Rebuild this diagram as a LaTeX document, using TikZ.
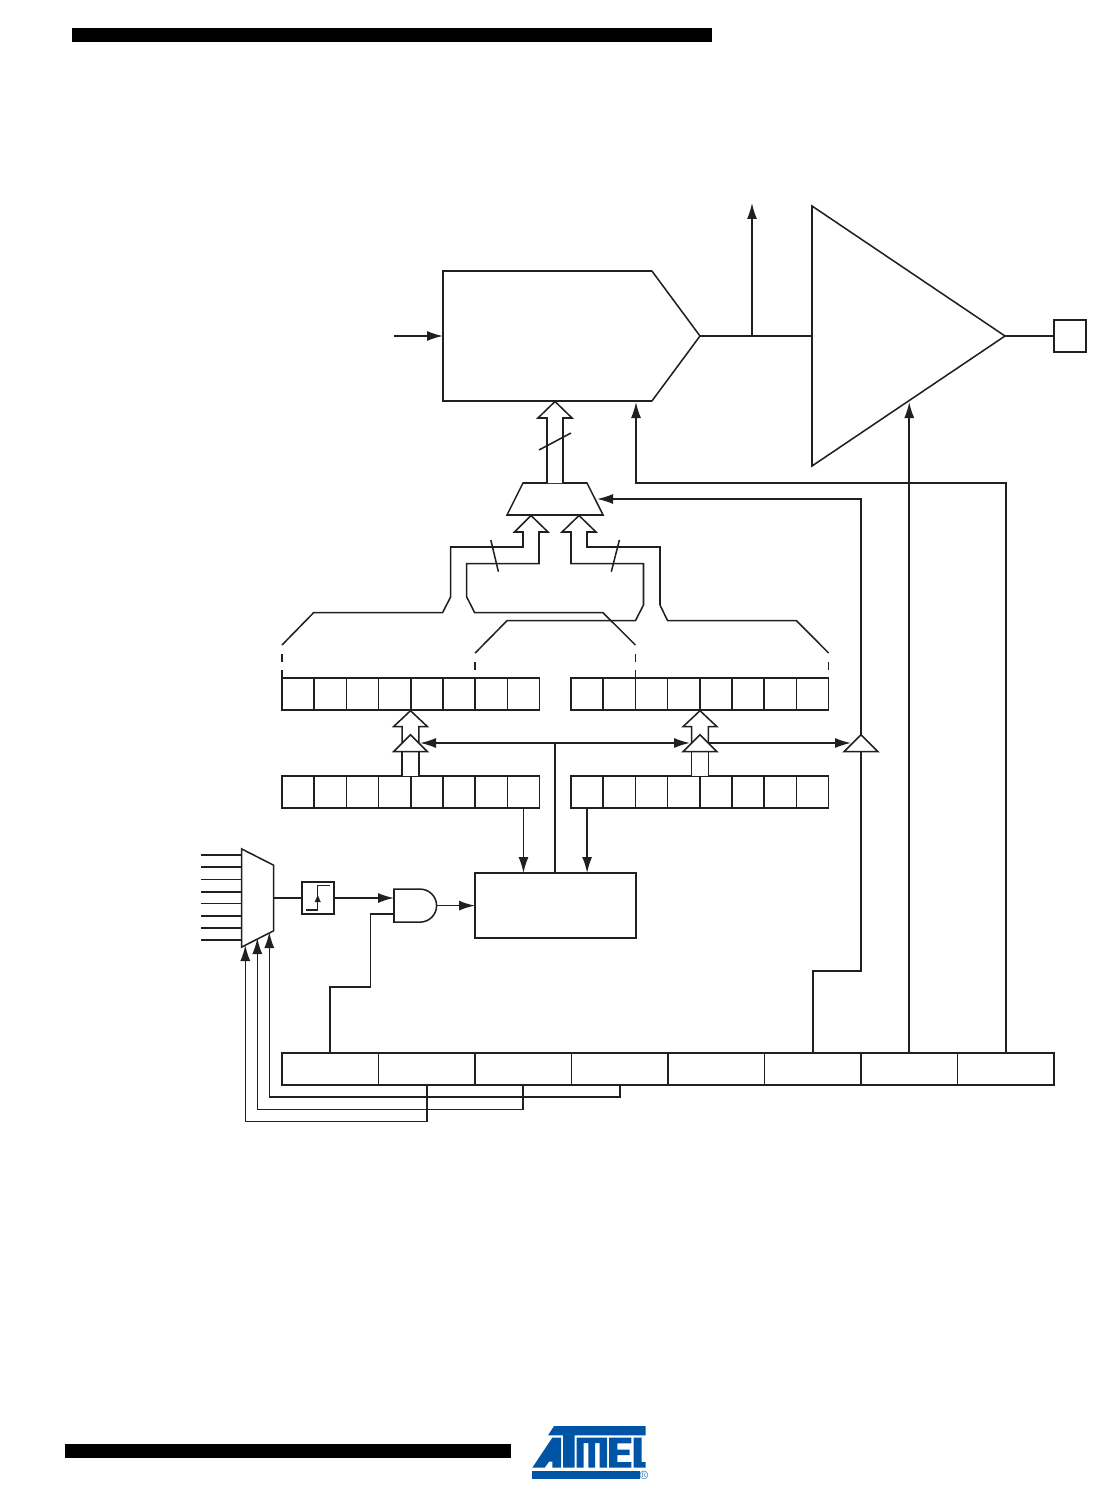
\documentclass[tikz,border=0pt]{standalone}
\usetikzlibrary{arrows.meta,calc,shapes.geometric,shapes.symbols}
\definecolor{inkline}{HTML}{231F20}
\definecolor{logoblue}{HTML}{0054A6}
\def\pxu{0.75pt}
\def\cellwid{32.2}
\def\ctrlwid{96.5}

\begin{document}
\begin{tikzpicture}[
            x=\pxu, y=-\pxu,
            line width=1.15pt, color=inkline,
            cell/.style={%
                rectangle, draw=inkline, line width=1.15pt, inner sep=0pt, outer sep=0pt,%
                minimum width=\cellwid*\pxu, minimum height=32*\pxu%
            },
            ctrl/.style={%
                cell, minimum width=\ctrlwid*\pxu%
            },
            block/.style={%
                rectangle, draw=inkline, line width=1.15pt, inner sep=0pt, outer sep=0pt%
            },
            bar/.style={%
                rectangle, fill=black, draw=none, inner sep=0pt, outer sep=0pt%
            },
            muxbox/.style={%
                trapezium, draw=inkline, line width=1.15pt,%
                fill=white, inner sep=0pt, outer sep=0pt, text height=32*\pxu, text depth=0pt%
            },
            tribuf/.style={%
                isosceles triangle, isosceles triangle stretches, shape border rotate=90,%
                draw=inkline, line width=1.15pt, fill=white, inner sep=0pt, outer sep=0pt,%
                minimum width=34*\pxu, minimum height=17*\pxu, anchor=lower side%
            },
            bus/.style={line width=1.15pt, draw=inkline, fill=white},
            arrow/.style={line width=1.15pt, -{Latex[length=12pt,width=7.5pt]}}
        ]
        \useasboundingbox (0,0) rectangle (1114,1487);

        % Page bars
        \node (headbar) [bar, minimum width=640*\pxu, minimum height=14*\pxu] at (391.7,35) {};
        \node (footbar) [bar, minimum width=446*\pxu, minimum height=14*\pxu] at (287.7,1451) {};

        % Define nodes
        \node (dac) [
                signal, signal to=east, signal pointer angle=107,
                draw=inkline, line width=1.15pt, inner sep=0pt, outer sep=0pt,
                minimum width=257*\pxu, minimum height=130*\pxu, anchor=west
            ] at (443,336) {};

        \node (amp) [
                isosceles triangle, isosceles triangle stretches,
                draw=inkline, line width=1.15pt, inner sep=0pt, outer sep=0pt,
                minimum width=260*\pxu, minimum height=193*\pxu, anchor=lower side
            ] at (812,336) {};

        \node (pin) [block, minimum width=32*\pxu, minimum height=32*\pxu] at (1070,336) {};

        \node (refin) [coordinate] at (394,336) {};
        \node (acout) [coordinate] at (752,203) {};

        \foreach \i in {1,...,8} {
            \node (dataH\i) [cell] at ({282+(\i-0.5)*\cellwid},694) {};
            \node (dataL\i) [cell] at ({571+(\i-0.5)*\cellwid},694) {};
            \node (buffH\i) [cell] at ({282+(\i-0.5)*\cellwid},792) {};
            \node (buffL\i) [cell] at ({571+(\i-0.5)*\cellwid},792) {};
            \node (ctrl\i) [ctrl] at ({282+(\i-0.5)*\ctrlwid},1069) {};
        }

        \node (timer) [block, minimum width=161*\pxu, minimum height=65*\pxu] at (555.5,905.5) {};

        \node (inmux) [
                muxbox, rotate=-90, trapezium left angle=63, trapezium right angle=63,
                text width=65.5*\pxu
            ] at (257.7,898) {};

        \node (trig) [block, minimum width=32.5*\pxu, minimum height=32.5*\pxu] at (318,898) {};

        \node (andgate) [
                inner sep=0pt, outer sep=0pt,
                minimum width=42.6*\pxu, minimum height=33*\pxu
            ] at (415.3,905.6) {};
        \coordinate (andin1) at (andgate.west |- 0,898);
        \coordinate (andin2) at (andgate.west |- 0,914);

        \node (selmux) [
                muxbox, trapezium left angle=63.4, trapezium right angle=63.4,
                text width=64*\pxu
            ] at (555,499) {};

        % Gate outline
        \draw (andgate.north west) -- ++(26.1,0) arc[start angle=90, end angle=-90, radius=16.5*\pxu] -- (andgate.south west) -- cycle;

        % Trigger symbol
        \draw (306,910) -- (317.7,910) -- (317.7,885.7) -- (330,885.7);
        \draw [-{Latex[length=6pt,width=5pt]}] (317.7,905) -- (317.7,894);

        % Analog part
        \draw [arrow] (refin) -- (dac.west);
        \draw (dac.east) -- (amp.lower side);
        \draw [arrow] (dac.east -| acout) -- (acout);
        \draw (amp.apex) -- (pin.west);
        \draw [arrow] (ctrl7.north) -- (ctrl7.north |- 0,402);
        \draw [arrow] (ctrl8.north) |- (636,483) -- (636,402);

        % Bus into the converter
        \draw [bus] (547,483) -- (547,418) -- (538,418) -- (555,401.5) -- (572,418) -- (563,418) -- (563,483);
        \draw (539,450) -- (571,433);

        % Buses into the selector
        \draw (dataH1.north west |- 0,645) -- (313.6,612.7) -- (442.5,612.7) -- (450.6,597) -- (450.6,547)
            -- (523,547) -- (523,532) -- (514.5,532) -- (531,515.5) -- (548,532) -- (539,532) -- (539,563.7)
            -- (466.7,563.7) -- (466.7,597) -- (474.7,612.7) -- (603,612.7) -- (dataL3.north west |- 0,645);
        \draw (dataH7.north west |- 0,653) -- (507,620.7) -- (635.4,620.7) -- (643.5,605) -- (643.5,563.7)
            -- (571,563.7) -- (571,532) -- (562,532) -- (579,515.5) -- (596,532) -- (587,532) -- (587,547)
            -- (660,547) -- (660,605) -- (667.6,620.7) -- (796.5,620.7) -- (dataL8.north east |- 0,653);
        \draw [dash pattern=on 6pt off 6pt] (dataH1.north west |- 0,654) -- (dataH1.north west);
        \draw [dash pattern=on 6pt off 6pt] (dataL3.north west |- 0,654) -- (dataL3.north west);
        \draw (dataH7.north west |- 0,662) -- (dataH7.north west |- 0,670);
        \draw (dataL8.north east |- 0,662) -- (dataL8.north east |- 0,670);
        \draw (490.8,540) -- (498.4,571.7);
        \draw (619.4,540) -- (611.3,571.7);

        % Buses between the registers
        \foreach \busx in {410.5,700} {
            \draw [bus] (\busx-8.3,745) -- (\busx-8.3,726.7) -- (\busx-17,726.7) -- (\busx,710.7)
                -- (\busx+17,726.7) -- (\busx+8.3,726.7) -- (\busx+8.3,745);
            \draw [bus] (\busx-8.3,776) -- (\busx-8.3,750) -- (\busx+8.3,750) -- (\busx+8.3,776);
        }

        % Update line
        \draw (timer.north -| 555,0) -- (555,743);
        \draw [arrow] (555,743) -- (420,743);
        \draw [arrow] (555,743) -- (690,743);
        \draw [arrow] (708,743) -- (851,743);

        \node (triH) [tribuf] at (410.5,751.7) {};
        \node (triL) [tribuf] at (700,751.7) {};
        \node (triS) [tribuf] at (861,751.7) {};

        % Select line
        \draw [arrow] (triS.apex) |- (597,499);
        \draw (triS.lower side) |- (ctrl6.north |- 0,971) -- (ctrl6.north);

        % Compare lines
        \draw [arrow] (buffH8.south) -- (buffH8.south |- timer.north);
        \draw [arrow] (buffL1.south) -- (buffL1.south |- timer.north);

        % Input selection
        \foreach \iny in {855,867,879.3,892,903.7,916,928,940} {
            \draw (201,\iny) -- (241.7,\iny);
        }
        \draw (inmux.north) -- (trig.west);
        \draw [arrow] (trig.east) -- (andin1);
        \draw (andin2) -| (370.5,987) -| (ctrl1.north);
        \draw [arrow] (andgate.east) -- (andgate.east -| timer.west);

        % Control lines
        \draw [arrow] (ctrl4.south) |- (269.3,1097) -- (269.3,932);
        \draw [arrow] (ctrl3.south) |- (257.3,1109.3) -- (257.3,938);
        \draw [arrow] (ctrl2.south) |- (245.3,1121.7) -- (245.3,945);

        % Logo
        \begin{scope}[shift={(519.7,1415)}, x=\pxu/3, y=-\pxu/3]
            \fill [logoblue] (103,33) -- (378,33) -- (378,61) -- (165,61) -- (165,158) -- (130,158) -- (130,61) -- (85,61) -- cycle;
            \fill [logoblue] (38,158) -- (98,68) -- (124,68) -- (124,158) -- (98,158) -- (98,140) -- (88,140) -- (75,158) -- cycle;
            \fill [logoblue] (171,68) -- (262,68) -- (262,158) -- (240,158) -- (240,84) -- (226,84) -- (226,158) -- (206,158) -- (206,84) -- (192,84) -- (192,158) -- (171,158) -- cycle;
            \fill [logoblue] (268,68) -- (335,68) -- (335,85) -- (293,85) -- (293,104) -- (330,104) -- (330,120) -- (293,120) -- (293,141) -- (335,141) -- (335,158) -- (268,158) -- cycle;
            \fill [logoblue] (342,68) -- (366,68) -- (366,141) -- (378,141) -- (378,158) -- (342,158) -- cycle;
            \fill [logoblue] (36,168) -- (360,168) -- (360,192) -- (36,192) -- cycle;
        \end{scope}
        \node (logoreg) [text=logoblue, inner sep=0pt, font=\fontsize{9}{9}\selectfont] at (644,1475) {\textregistered};
        \end{tikzpicture}
\end{document}
